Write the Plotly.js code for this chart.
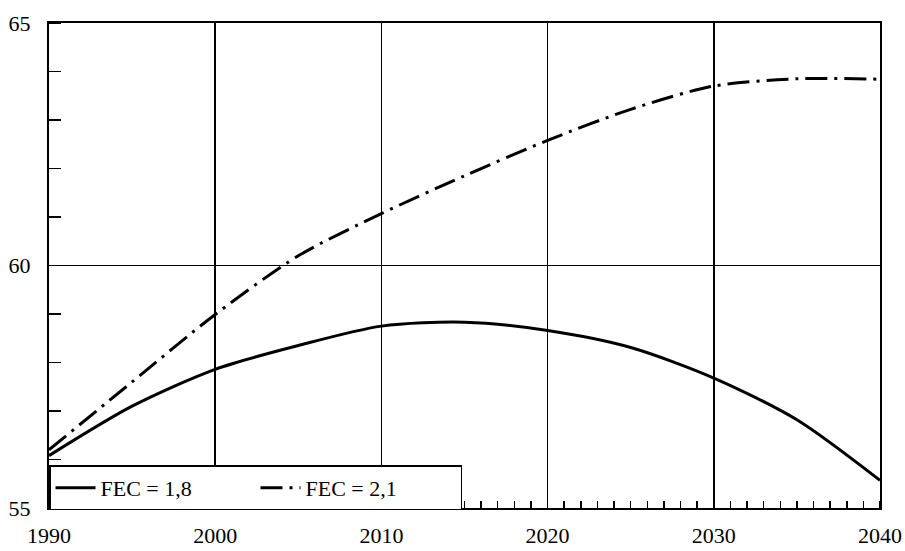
<!DOCTYPE html>
<html>
<head>
<meta charset="utf-8">
<script src="https://cdn.plot.ly/plotly-3.0.1.min.js"></script>
<style>html,body{margin:0;padding:0;background:#fff}#chart{width:905px;height:551px}</style>
</head>
<body>
<div id="chart"></div>
<script>
const years = [1990, 1995, 2000, 2005, 2010, 2015, 2020, 2025, 2030, 2035, 2040];
const fec18 = [56.08, 57.1, 57.86, 58.35, 58.75, 58.83, 58.66, 58.31, 57.68, 56.82, 55.57];
const fec21 = [56.2, 57.6, 58.99, 60.2, 61.07, 61.85, 62.58, 63.22, 63.7, 63.85, 63.84];
const seriesNames = ["FEC = 1,8", "FEC = 2,1"];
const xTickVals = [1990, 2000, 2010, 2020, 2030, 2040];
const yTickVals = [55, 60, 65];

const font = "Liberation Serif";

const traces = [
  {x: years, y: fec18, name: seriesNames[0], mode: "lines", line: {color: "#000", width: 3, shape: "spline", smoothing: 0.8}},
  {x: years, y: fec21, name: seriesNames[1], mode: "lines", line: {color: "#000", width: 3, dash: "22px,7px,3px,7px", shape: "spline", smoothing: 0.8}}
];

const layout = {
  width: 905, height: 551,
  margin: {l: 49, r: 25, t: 23, b: 43},
  paper_bgcolor: "#fff", plot_bgcolor: "#fff",
  font: {family: font, size: 22, color: "#000"},
  showlegend: true,
  legend: {
    orientation: "h", x: 0, y: -0.005, xanchor: "left", yanchor: "bottom",
    bgcolor: "#fff", bordercolor: "#000", borderwidth: 1.5,
    font: {family: font, size: 22, color: "#000"},
    entrywidth: 150, tracegroupgap: 0, itemwidth: 40
  },
  xaxis: {
    range: [1990, 2040], tickmode: "array", tickvals: xTickVals, ticktext: xTickVals.map(String),
    ticks: "", showgrid: true, gridcolor: "#000", gridwidth: 1.5,
    showline: true, linecolor: "#000", linewidth: 2, mirror: true, zeroline: false,
    ticklabelstandoff: 7, tickfont: {family: font, size: 22},
    minor: {dtick: 1, ticks: "inside", ticklen: 7, tickcolor: "#000", tickwidth: 1.5, showgrid: false}
  },
  yaxis: {
    range: [55, 65], tickmode: "array", tickvals: yTickVals, ticktext: yTickVals.map(String),
    ticks: "", showgrid: true, gridcolor: "#000", gridwidth: 1.5,
    showline: true, linecolor: "#000", linewidth: 2, mirror: true, zeroline: false,
    ticklabelstandoff: 12, tickfont: {family: font, size: 22},
    minor: {dtick: 1, ticks: "inside", ticklen: 12, tickcolor: "#000", tickwidth: 1.5, showgrid: false}
  }
};

Plotly.newPlot("chart", traces, layout, {displayModeBar: false, staticPlot: true});
</script>
</body>
</html>
